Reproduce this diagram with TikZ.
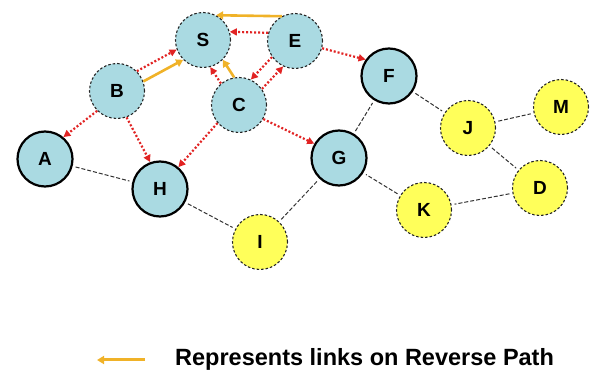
\documentclass[tikz,border=0pt]{standalone}
\usepackage{fontspec}
\setmainfont{Liberation Sans}
\usetikzlibrary{arrows.meta}
\definecolor{nblue}{RGB}{170,218,226}
\definecolor{nyel}{RGB}{255,255,90}
\definecolor{revc}{RGB}{240,178,40}
\definecolor{fwdc}{RGB}{225,35,35}
\definecolor{lnkc}{RGB}{50,50,50}
\begin{document}
\begin{tikzpicture}[x=1pt,y=-1pt,
 nd/.style={circle,minimum size=55pt,inner sep=0pt,font=\fontsize{19}{19}\selectfont\bfseries},
 bl/.style={nd,fill=nblue},
 yl/.style={nd,fill=nyel},
 solidb/.style={draw=black,line width=2.2pt},
 dashb/.style={draw=black!85,line width=1.1pt,dash pattern=on 2.5pt off 2pt},
 lnkline/.style={draw=lnkc,line width=1pt,dash pattern=on 4pt off 2pt,shorten <=3pt,shorten >=3pt},
 fwdarr/.style={draw=fwdc,line width=2.2pt,dash pattern=on 2pt off 2pt,-{Triangle[length=7pt,width=7pt]}},
 revarr/.style={draw=revc,line width=2.6pt,-{Triangle[length=7pt,width=8pt]}}]
\useasboundingbox (0,0) rectangle (592,371);
% nodes
\node[bl,dashb] (S) at (203,40) {S};
\node[bl,dashb] (E) at (295,41) {E};
\node[bl,dashb] (B) at (117,91) {B};
\node[bl,dashb] (C) at (239,105) {C};
\node[bl,solidb] (F) at (389,76) {F};
\node[bl,solidb] (A) at (45,159) {A};
\node[bl,solidb] (H) at (160,189) {H};
\node[bl,solidb] (G) at (339,158) {G};
\node[yl,dashb] (I) at (260,242) {I};
\node[yl,dashb] (J) at (468,128) {J};
\node[yl,dashb] (M) at (561,107) {M};
\node[yl,dashb] (D) at (540,188) {D};
\node[yl,dashb] (K) at (424,210) {K};
% plain links
\draw[lnkline] (A) -- (H);
\draw[lnkline] (H) -- (I);
\draw[lnkline] (I) -- (G);
\draw[lnkline] (G) -- (F);
\draw[lnkline] (F) -- (J);
\draw[lnkline] (J) -- (M);
\draw[lnkline] (J) -- (D);
\draw[lnkline] (D) -- (K);
\draw[lnkline] (K) -- (G);
% forward (red dotted)
\draw[fwdarr] (E.163) -- (S.17);
\draw[fwdarr] (B.45) -- (S.200);
\draw[fwdarr] (C.130) -- (S.285);
\draw[fwdarr] (E.215) -- (C.65);
\draw[fwdarr] (C.35) -- (E.245);
\draw[fwdarr] (E.-15) -- (F.145);
\draw[fwdarr] (B.225) -- (A.50);
\draw[fwdarr] (B.-70) -- (H.110);
\draw[fwdarr] (C.220) -- (H.50);
\draw[fwdarr] (C.-30) -- (G.150);
% reverse (orange)
\draw[revarr] (E.118) -- (S.62);
\draw[revarr] (B.20) -- (S.225);
\draw[revarr] (C.100) -- (S.315);
% legend
\coordinate (la) at (97,360);
\coordinate (lb) at (145,360);
\draw[revarr,line width=3pt] (lb) -- (la);
\node[anchor=base west,inner sep=0pt,font=\fontsize{23.5}{24}\selectfont\bfseries] (leg) at (175,366) {Represents links on Reverse Path};
\end{tikzpicture}
\end{document}
